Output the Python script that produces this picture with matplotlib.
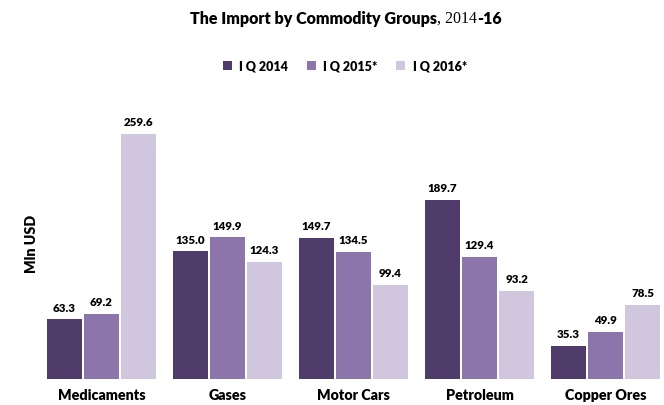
import numpy as np
import matplotlib.pyplot as plt

# data
groups = ["Medicaments", "Gases", "Motor Cars", "Petroleum", "Copper Ores"]
series = ["I Q 2014", "I Q 2015*", "I Q 2016*"]
q2014 = [63.3, 135.0, 149.7, 189.7, 35.3]
q2015 = [69.2, 149.9, 134.5, 129.4, 49.9]
q2016 = [259.6, 124.3, 99.4, 93.2, 78.5]
colors = ["#4f3c6b", "#8c75ab", "#d0c7df"]

plt.rcParams['font.family'] = ['Lato', 'DejaVu Sans']
plt.rcParams['font.weight'] = 'heavy'

W, H = 664, 405
fig = plt.figure(figsize=(W/100, H/100), dpi=100)
ax = fig.add_axes([40/W, (H-379)/H, 624/W, (379-105)/H])

x = np.arange(len(groups))
bw = 0.278
step = 0.294
for k, (vals, lab) in enumerate(zip([q2014, q2015, q2016], series)):
    bars = ax.bar(x + (k-1)*step, vals, bw, color=colors[k], label=lab)
    for b, v in zip(bars, vals):
        ax.text(b.get_x() + b.get_width()/2, v + 6, f"{v:.1f}",
                ha='center', va='bottom', fontsize=8.3, fontweight='heavy')

ax.set_xlim(-0.488, 4.464)
ax.set_ylim(0, 290)
ax.set_xticks(x)
ax.set_xticklabels(groups, fontsize=10.3, fontweight='heavy')
ax.tick_params(axis='x', length=0, pad=7.5)
ax.set_yticks([])
for s in ax.spines.values():
    s.set_visible(False)
fig.text(32/W, 1-244/H, "Mln USD", rotation=90, ha='center', va='center',
         fontsize=10.3, fontweight='heavy')

fig.legend(loc='center', bbox_to_anchor=(345/W, 1-66/H), ncol=3, frameon=False,
           handlelength=0.7, handleheight=0.7, handletextpad=0.6, columnspacing=1.5,
           prop={'weight': 'heavy', 'size': 9})

# title in pieces (mixed fonts)
parts = [("The Import by Commodity Groups", 'Lato', 'heavy'),
         (", 2014", 'Liberation Serif', 'normal'),
         ("-16", 'Lato', 'heavy')]
fig.canvas.draw()
r = fig.canvas.get_renderer()
texts = []
for s, fam, wt in parts:
    t = fig.text(0, 1-19/H, s, family=[fam, 'DejaVu Sans'], weight=wt,
                 fontsize=11.5, ha='left', va='center')
    texts.append(t)
widths = [t.get_window_extent(r).width for t in texts]
x0 = 346 - sum(widths)/2
for t, w in zip(texts, widths):
    t.set_x(x0/W)
    x0 += w

fig.savefig("out.png", dpi=100)
